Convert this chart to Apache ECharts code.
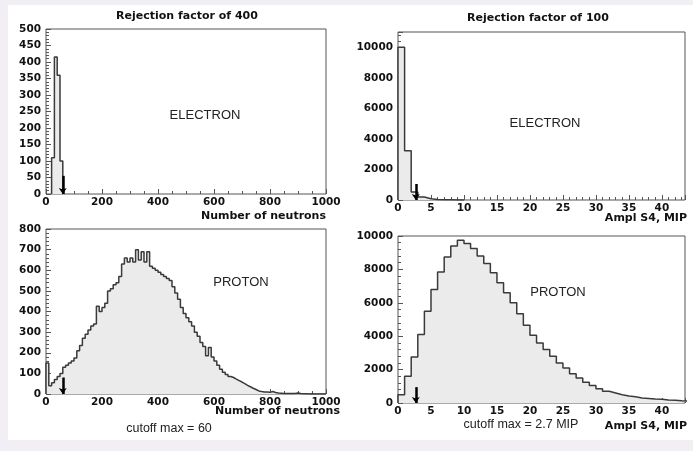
<!DOCTYPE html>
<html>
<head>
<meta charset="utf-8">
<script src="https://cdn.jsdelivr.net/npm/echarts@6/dist/echarts.min.js"></script>
<style>
html,body{margin:0;padding:0;background:#f1eff3;}
#chart{width:693px;height:451px;}
</style>
</head>
<body>
<div id="chart"></div>
<script>
// ---- data ----
const neutronBinWidth = 10;
const electronNeutronStart = 20;
const electronNeutronCounts = [110, 415, 360, 100];
const protonNeutronStart = 0;
const protonNeutronCounts = [
  150, 40, 55, 70, 85, 100, 130, 140, 150, 160,
  175, 210, 235, 270, 290, 310, 330, 340, 425, 400,
  420, 440, 500, 510, 530, 540, 570, 630, 660, 640,
  660, 640, 700, 650, 690, 640, 690, 620, 610, 600,
  590, 580, 570, 560, 550, 520, 490, 460, 420, 390,
  370, 350, 330, 300, 280, 250, 230, 185, 225, 180,
  160, 140, 120, 105, 95, 85, 80, 72, 65, 58,
  50, 42, 35, 28, 22, 15, 12, 10, 10, 8,
  12, 7, 5, 4, 3, 3, 2, 2, 3, 5,
  2, 1, 1, 0, 1, 0, 0, 0, 0, 0
];
const amplBinWidth = 1;
const electronAmplStart = 0;
const electronAmplCounts = [10000, 3220, 520, 200, 80, 30, 15, 10, 5, 5];
const protonAmplStart = 0;
const protonAmplCounts = [
  500, 1600, 2750, 4100, 5500, 6800, 7850, 8750, 9400, 9750,
  9550, 9250, 8800, 8350, 7800, 7200, 6600, 6000, 5350, 4650,
  4050, 3600, 3200, 2800, 2400, 2100, 1750, 1500, 1250, 1050,
  850, 700, 600, 500, 420, 380, 300, 270, 240, 220,
  180, 170, 130, 110
];
const neutronCutoff = 60;
const amplCutoff = 2.7;
const arrowTops = [55, 1050, 80, 950];
const titles = ['Rejection factor of 400', 'Rejection factor of 100'];
const particleLabels = ['ELECTRON', 'ELECTRON', 'PROTON', 'PROTON'];
const xNames = ['Number of neutrons', 'Ampl S4, MIP', 'Number of neutrons', 'Ampl S4, MIP'];
const cutoffTexts = ['cutoff max = 60', 'cutoff max = 2.7 MIP'];

// ---- helpers ----
function stepData(start, width, counts) {
  const d = [[start, 0]];
  counts.forEach((c, i) => d.push([start + i * width, c]));
  d.push([start + counts.length * width, 0]);
  return d;
}

const tickFont = { fontFamily: 'DejaVu Sans', fontWeight: 'bold', fontSize: 10.5, color: '#111' };
const axisColor = '#555';

function xAxis(idx, max, interval, minorSplit, showMax) {
  return {
    type: 'value', gridIndex: idx, min: 0, max: max, interval: interval,
    axisLine: { show: false },
    axisTick: { show: true, inside: true, length: 5, lineStyle: { color: axisColor, width: 1 } },
    minorTick: { show: true, splitNumber: minorSplit, length: 3, lineStyle: { color: axisColor, width: 1 } },
    splitLine: { show: false },
    axisLabel: Object.assign({ margin: 3, showMaxLabel: showMax, formatter: v => String(v) }, tickFont)
  };
}
function yAxis(idx, max, interval, minorSplit, showMax) {
  return {
    type: 'value', gridIndex: idx, min: 0, max: max, interval: interval,
    axisLine: { show: false },
    axisTick: { show: true, inside: true, length: 5, lineStyle: { color: axisColor, width: 1 } },
    minorTick: { show: true, splitNumber: minorSplit, length: 3, lineStyle: { color: axisColor, width: 1 } },
    splitLine: { show: false },
    axisLabel: Object.assign({ margin: 5, showMaxLabel: showMax, formatter: v => String(v) }, tickFont)
  };
}
function histSeries(idx, data, cutoff, arrowTop) {
  return {
    type: 'line', xAxisIndex: idx, yAxisIndex: idx, step: 'end',
    data: data, showSymbol: false, symbol: 'none', silent: true,
    lineStyle: { color: '#3a3a3a', width: 1.5 },
    areaStyle: { color: '#ebebeb', opacity: 1 },
    markLine: {
      silent: true, symbol: ['none', 'arrow'], symbolSize: [6, 6],
      label: { show: false },
      lineStyle: { color: '#000', width: 2.5, type: 'solid' },
      data: [[{ coord: [cutoff, arrowTop] }, { coord: [cutoff, 0] }]]
    }
  };
}

const grids = [
  { left: 46, top: 29, width: 280, height: 165 },
  { left: 398, top: 32, width: 287, height: 168 },
  { left: 46, top: 229, width: 280, height: 165 },
  { left: 398, top: 236, width: 287, height: 167 }
].map(g => Object.assign({ show: true, borderColor: axisColor, borderWidth: 1, backgroundColor: 'transparent', containLabel: false }, g));

const boldText = { fontFamily: 'DejaVu Sans', fontWeight: 'bold', fontSize: 11, fill: '#111' };
const plainText = { fontFamily: 'Liberation Sans', fontSize: 13, fill: '#222' };
function txt(x, y, text, base, align) {
  return { type: 'text', x: x, y: y, z: 10, silent: true,
    style: Object.assign({ text: text, textAlign: align || 'center', textVerticalAlign: 'middle' }, base) };
}

const chart = echarts.init(document.getElementById('chart'), null, { renderer: 'canvas' });
chart.setOption({
  animation: false,
  backgroundColor: '#f1eff3',
  grid: grids,
  xAxis: [
    xAxis(0, 1000, 200, 4, true),
    xAxis(1, 43.5, 5, 5, false),
    xAxis(2, 1000, 200, 4, true),
    xAxis(3, 43.5, 5, 5, false)
  ],
  yAxis: [
    yAxis(0, 500, 50, 5, true),
    yAxis(1, 11000, 2000, 5, false),
    yAxis(2, 800, 100, 5, true),
    yAxis(3, 10000, 2000, 5, true)
  ],
  series: [
    histSeries(0, stepData(electronNeutronStart, neutronBinWidth, electronNeutronCounts), neutronCutoff, arrowTops[0]),
    histSeries(1, stepData(electronAmplStart, amplBinWidth, electronAmplCounts), amplCutoff, arrowTops[1]),
    histSeries(2, stepData(protonNeutronStart, neutronBinWidth, protonNeutronCounts), neutronCutoff, arrowTops[2]),
    histSeries(3, stepData(protonAmplStart, amplBinWidth, protonAmplCounts), amplCutoff, arrowTops[3])
  ],
  graphic: [
    { type: 'rect', z: -1, silent: true, shape: { x: 8, y: 5, width: 685, height: 435 }, style: { fill: '#ffffff' } },
    txt(187, 16, titles[0], boldText),
    txt(538, 18, titles[1], boldText),
    txt(205, 115, particleLabels[0], plainText),
    txt(545, 123, particleLabels[1], plainText),
    txt(241, 282, particleLabels[2], plainText),
    txt(558, 292, particleLabels[3], plainText),
    txt(326, 216, xNames[0], boldText, 'right'),
    txt(687, 218, xNames[1], boldText, 'right'),
    txt(340, 411, xNames[2], boldText, 'right'),
    txt(687, 426, xNames[3], boldText, 'right'),
    txt(169, 429, cutoffTexts[0], Object.assign({}, plainText, { fontSize: 12.5 })),
    txt(521, 425, cutoffTexts[1], Object.assign({}, plainText, { fontSize: 12.5 }))
  ]
});
</script>
</body>
</html>
